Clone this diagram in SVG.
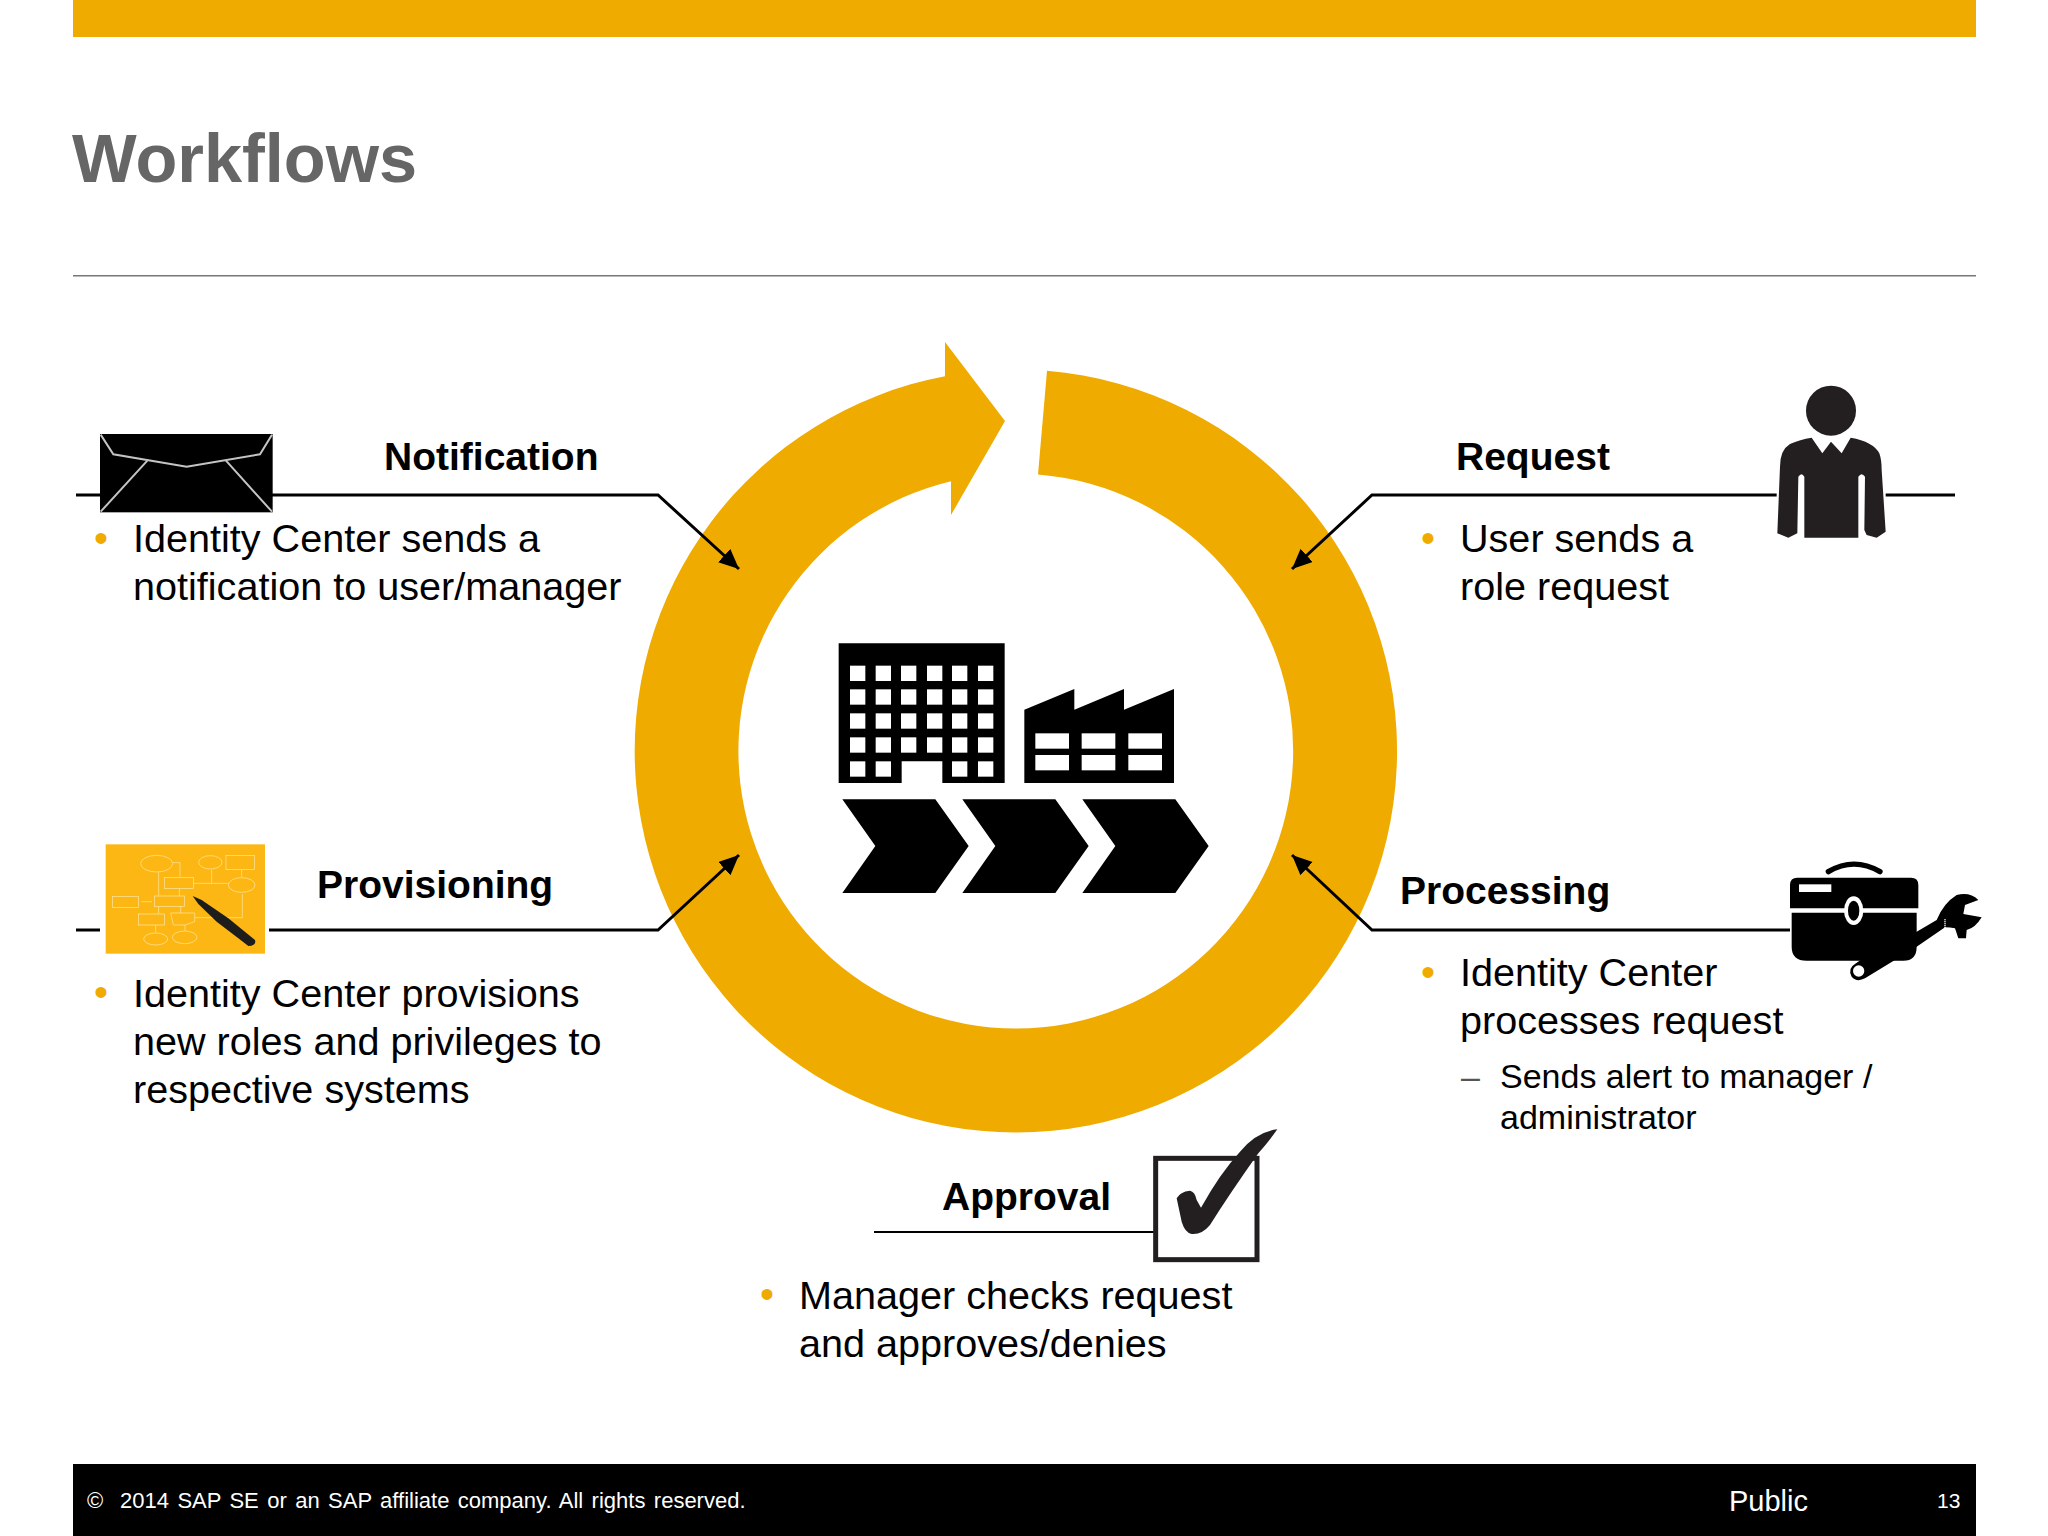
<svg xmlns="http://www.w3.org/2000/svg" width="2048" height="1536" viewBox="0 0 2048 1536">
<style>
text{font-family:"Liberation Sans",Arial,sans-serif;fill:#000}
.h{font-size:39px;font-weight:700}
.b{font-size:39.6px}
.s{font-size:34px}
.d{fill:#F0AB00;font-size:40px}
.gold{fill:#F0AB00}
.ln{fill:none;stroke:#000;stroke-width:3}
.fl{fill:none;stroke:#FFE9A8;stroke-width:2}
</style>
<defs>
<marker id="ah" markerUnits="userSpaceOnUse" markerWidth="22" markerHeight="20" refX="20" refY="9" orient="auto"><path d="M0,0L20,9L0,18Z" fill="#000"/></marker>
</defs>
<rect width="2048" height="1536" fill="#fff"/>
<rect class="gold" x="73" y="0" width="1903" height="37"/>
<text x="72" y="182" font-size="68.500" font-weight="700" style="fill:#666">Workflows</text>
<rect x="73" y="275" width="1903" height="1.5" fill="#777"/>
<rect x="73" y="1464" width="1903" height="72" fill="#000"/>
<text x="87" y="1508" font-size="22" word-spacing="2.300" style="fill:#fff">©&#160;&#160;2014 SAP SE or an SAP affiliate company. All rights reserved.</text>
<text x="1729" y="1511" font-size="29" style="fill:#fff">Public</text>
<text x="1937" y="1508" font-size="21" style="fill:#fff">13</text>

<g id="cycle">
<path class="gold" d="M1047,370.800A381.500,381.500 0 0 1 1016,1132.500A381.500,381.500 0 0 1 945,376.200V342L1005,421L951,515V481.200A277.500,277.500 0 0 0 1016,1028.500A277.500,277.500 0 0 0 1038,474.400Z"/>
</g>

<g id="connectors">
<path class="ln" d="M76,495H658L739,569" marker-end="url(#ah)"/>
<path class="ln" d="M1955,495H1372L1292,569" marker-end="url(#ah)"/>
<path class="ln" d="M76,930H658L739,855" marker-end="url(#ah)"/>
<path class="ln" d="M1795,930H1372L1292,855" marker-end="url(#ah)"/>
<path class="ln" style="stroke-width:2" d="M874,1232H1155"/>
</g>

<g id="center" transform="translate(820 620) scale(.33333)">
<path fill="#000" fill-rule="evenodd" d="M56,70H554V489H367V424H245V489H56Z"/>
<g fill="#fff">
<rect x="90" y="137" width="46" height="46"/><rect x="167" y="137" width="46" height="46"/><rect x="243" y="137" width="46" height="46"/><rect x="321" y="137" width="46" height="46"/><rect x="396" y="137" width="46" height="46"/><rect x="474" y="137" width="46" height="46"/>
<rect x="90" y="208" width="46" height="46"/><rect x="167" y="208" width="46" height="46"/><rect x="243" y="208" width="46" height="46"/><rect x="321" y="208" width="46" height="46"/><rect x="396" y="208" width="46" height="46"/><rect x="474" y="208" width="46" height="46"/>
<rect x="90" y="280" width="46" height="46"/><rect x="167" y="280" width="46" height="46"/><rect x="243" y="280" width="46" height="46"/><rect x="321" y="280" width="46" height="46"/><rect x="396" y="280" width="46" height="46"/><rect x="474" y="280" width="46" height="46"/>
<rect x="90" y="352" width="46" height="46"/><rect x="167" y="352" width="46" height="46"/><rect x="243" y="352" width="46" height="46"/><rect x="321" y="352" width="46" height="46"/><rect x="396" y="352" width="46" height="46"/><rect x="474" y="352" width="46" height="46"/>
<rect x="90" y="424" width="46" height="46"/><rect x="167" y="424" width="46" height="46"/><rect x="396" y="424" width="46" height="46"/><rect x="474" y="424" width="46" height="46"/>
</g>
<path fill="#000" d="M613,269L763,207V269L912,207V269L1062,207V489H613Z"/>
<g fill="#fff">
<rect x="646" y="340" width="101" height="46"/><rect x="785" y="340" width="101" height="46"/><rect x="925" y="340" width="101" height="46"/>
<rect x="646" y="405" width="101" height="46"/><rect x="785" y="405" width="101" height="46"/><rect x="925" y="405" width="101" height="46"/>
</g>
<path fill="#000" d="M67,538H346L446,678L346,819H67L166,678Z"/>
<path fill="#000" d="M427,538H706L806,678L706,819H427L526,678Z"/>
<path fill="#000" d="M787,538H1066L1166,678L1066,819H787L886,678Z"/>
</g>

<g id="notification">
<g transform="translate(70 400) scale(.33333)">
<rect x="90" y="102" width="518" height="235" fill="#000"/>
<path d="M92,104L130,163L350,200L570,163L606,104M92,335L232,182M606,335L468,182" fill="none" stroke="#c4c4c4" stroke-width="6"/>
</g>
<text class="h" x="384" y="470">Notification</text>
<text class="d" x="94" y="552">•</text>
<text class="b" x="133" y="552">Identity Center sends a</text>
<text class="b" x="133" y="600">notification to user/manager</text>
</g>

<g id="request">
<g transform="translate(1760 370) scale(.33333)" fill="#231f20">
<rect x="50" y="0" width="327" height="510" fill="#fff"/>
<circle cx="213" cy="122" r="75"/>
<path d="M155,203L187,250L213,215L245,250L272,203Q340,215 358,250Q365,270 365,300L377,485L350,503L320,495L313,480L315,320Q305,305 295,320V503H133V320Q125,305 115,320L112,490L85,503L52,490L60,290Q60,240 90,222Q120,208 155,203Z"/>
</g>
<text class="h" x="1456" y="470">Request</text>
<text class="d" x="1421" y="552">•</text>
<text class="b" x="1460" y="552">User sends a</text>
<text class="b" x="1460" y="600">role request</text>
</g>

<g id="processing">
<g transform="translate(1770 840) scale(.33333)">
<rect x="60" y="40" width="585" height="385" fill="#fff"/>
<path d="M175,95Q252,50 330,95" fill="none" stroke="#000" stroke-width="16" stroke-linecap="round"/>
<path d="M440,275L500,240Q520,190 560,165Q600,155 625,180L585,195L580,222L635,232Q615,265 590,270L588,295H565L555,265Q540,262 525,262L440,320L285,415Q260,428 245,410Q232,385 255,372L300,340Z" fill="#000"/>
<circle cx="266" cy="393" r="17" fill="#fff"/>
<path d="M60,205V135Q60,113 82,113H423Q445,113 445,135V205Z" fill="#000"/>
<rect x="87" y="133" width="97" height="23" fill="#fff"/>
<path d="M65,218H440V320Q440,362 400,362H110Q65,362 65,320Z" fill="#000"/>
<ellipse cx="251" cy="212" rx="29" ry="43" fill="#fff"/>
<ellipse cx="251" cy="212" rx="17" ry="30" fill="#000"/>
<path d="M525,238V268" stroke="#fff" stroke-width="5" stroke-dasharray="3 3"/>
</g>
<text class="h" x="1400" y="904">Processing</text>
<text class="d" x="1421" y="986">•</text>
<text class="b" x="1460" y="986">Identity Center</text>
<text class="b" x="1460" y="1034">processes request</text>
<text class="s" x="1461" y="1088" font-weight="400" style="fill:#555">–</text>
<text class="s" x="1500" y="1088">Sends alert to manager /</text>
<text class="s" x="1500" y="1129">administrator</text>
</g>

<g id="provisioning">
<g transform="translate(70 820) scale(.33333)">
<rect x="90" y="60" width="507" height="355" fill="#fff"/>
<rect x="107" y="73" width="478" height="328" fill="#FDB714"/>
<g class="fl">
<ellipse cx="260" cy="131" rx="48" ry="25"/><ellipse cx="421" cy="127" rx="35" ry="20"/><rect x="468" y="107" width="85" height="41"/>
<ellipse cx="515" cy="195" rx="40" ry="22"/><rect x="284" y="172" width="86" height="34"/><rect x="128" y="230" width="78" height="33"/>
<rect x="254" y="228" width="90" height="31"/><rect x="206" y="282" width="78" height="33"/><path d="M302,279H374V305L345,315H310Z"/>
<ellipse cx="257" cy="357" rx="36" ry="18"/><ellipse cx="344" cy="352" rx="37" ry="19"/>
<path d="M308,128H330V170M266,157V226M328,206V228M372,190H476M425,190V150M515,172V150M214,245H246M266,260V280M332,260V280M257,315V338M345,315V333M374,293H517V222"/>
</g>
<path d="M368,228L395,240L475,295L555,360Q560,378 535,378L505,355L440,305L385,252Z" fill="#1d1d1b"/>
</g>
<text class="h" x="317" y="898">Provisioning</text>
<text class="d" x="94" y="1006">•</text>
<text class="b" x="133" y="1007">Identity Center provisions</text>
<text class="b" x="133" y="1055">new roles and privileges to</text>
<text class="b" x="133" y="1103">respective systems</text>
</g>

<g id="approval">
<g transform="translate(1130 1110) scale(.33333)">
<rect x="77" y="145" width="304" height="304" fill="#fff" stroke="#231f20" stroke-width="15"/>
<path d="M140,265Q150,245 180,242Q195,245 200,270L213,293Q270,190 330,125Q380,65 442,58Q420,90 385,130Q300,250 240,345Q215,375 185,372Q165,368 155,335Z" fill="#231f20"/>
</g>
<text class="h" x="942" y="1210">Approval</text>
<text class="d" x="760" y="1308">•</text>
<text class="b" x="799" y="1309">Manager checks request</text>
<text class="b" x="799" y="1357">and approves/denies</text>
</g>
</svg>
